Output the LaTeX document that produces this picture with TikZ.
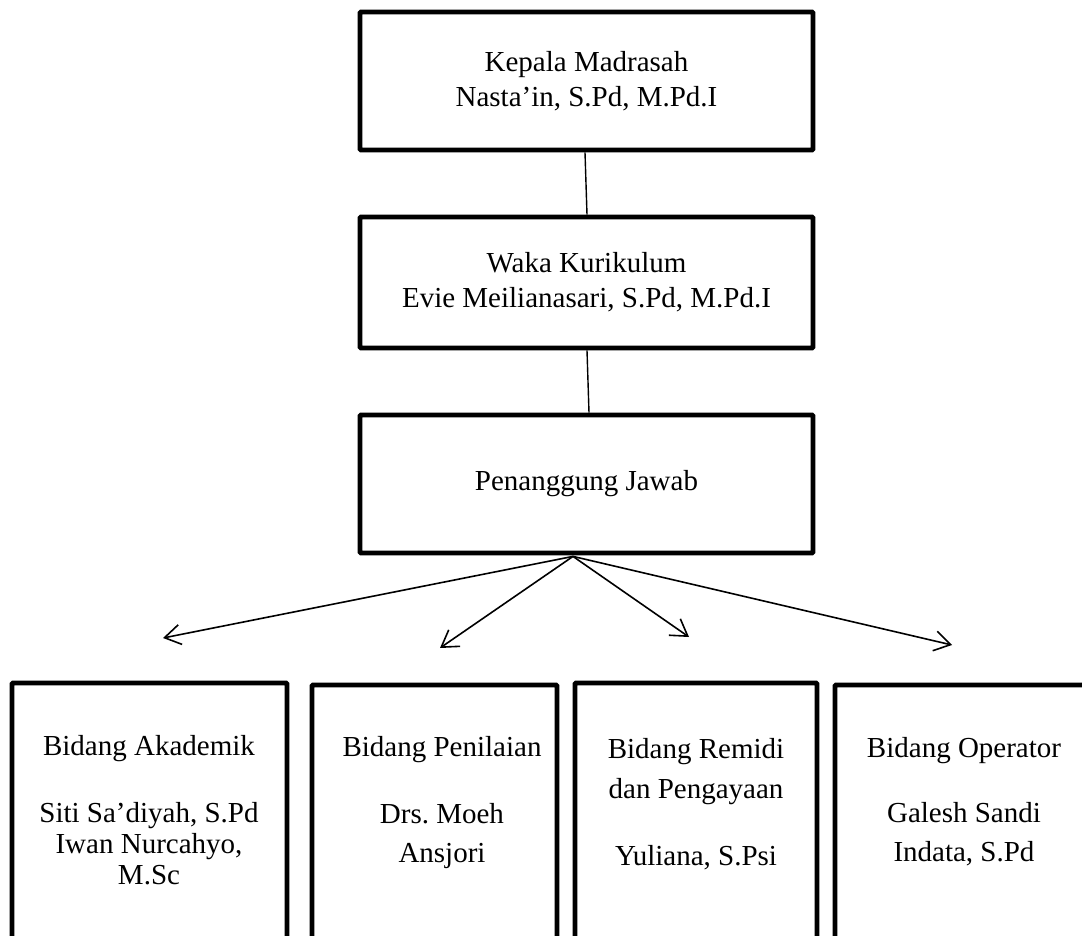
\documentclass[tikz,border=0pt]{standalone}
\usepackage{fontspec}
\setmainfont{Liberation Serif}
\usetikzlibrary{arrows.meta}
\begin{document}
\begin{tikzpicture}[x=1pt,y=-1pt,
  box/.style={draw, line width=4.8pt, rounded corners=1pt, inner sep=0pt, align=center,
              font=\fontsize{29}{35}\selectfont},
  btext/.style={inner sep=0pt, align=center, anchor=north},
  conn/.style={line width=1.4pt},
  arr/.style={line width=1.6pt, -{Straight Barb[length=16pt,width=20pt]}}]
\useasboundingbox (0,0) rectangle (1082,935);
\clip (0,0) rectangle (1082,935);
% top chain
\node[box, minimum width=453pt, minimum height=138pt] (kepala) at (586.5,81)
  {Kepala Madrasah\\Nasta’in, S.Pd, M.Pd.I};
\node[box, minimum width=453pt, minimum height=131pt] (waka) at (586.5,282.5)
  {Waka Kurikulum\\Evie Meilianasari, S.Pd, M.Pd.I};
\node[box, minimum width=453pt, minimum height=138pt] (pj) at (586.5,484)
  {\raisebox{-4pt}{Penanggung Jawab}};
\draw[conn] ([xshift=-1.5pt]kepala.south) -- ([xshift=0.5pt]waka.north);
\draw[conn] ([xshift=0.5pt]waka.south) -- ([xshift=2.5pt]pj.north);
% bottom boxes
\node[box, minimum width=275pt, minimum height=277pt] (akad) at (149.5,821.5) {};
\node[box, minimum width=245pt, minimum height=275pt] (nilai) at (434.5,822.5) {};
\node[box, minimum width=242pt, minimum height=277pt] (remidi) at (696,821.5) {};
\node[box, minimum width=265pt, minimum height=275pt] (oper) at (967.5,822.5) {};
% bottom texts
\node[btext, font=\fontsize{29}{31}\selectfont] (akadt) at (149,735)
  {Bidang Akademik\\[36pt]Siti Sa’diyah, S.Pd\\Iwan Nurcahyo,\\M.Sc};
\node[btext, font=\fontsize{29}{39}\selectfont] (nilait) at (442,736)
  {Bidang Penilaian\\[28pt]Drs.\ Moeh\\Ansjori};
\node[btext, font=\fontsize{29}{40}\selectfont] (remidit) at (696,738)
  {Bidang Remidi\\dan Pengayaan\\[27pt]Yuliana, S.Psi};
\node[btext, font=\fontsize{29}{39}\selectfont] (opert) at (964,737)
  {Bidang Operator\\[26pt]Galesh Sandi\\Indata, S.Pd};
% arrows
\coordinate (src) at ([xshift=-13.5pt,yshift=-1pt]pj.south);
\coordinate (t1) at (163,638);
\coordinate (t2) at (440,648);
\coordinate (t3) at (689,637);
\coordinate (t4) at (952,645);
\draw[arr] (src) -- (t1);
\draw[arr] (src) -- (t2);
\draw[arr] (src) -- (t3);
\draw[arr] (src) -- (t4);
\end{tikzpicture}
\end{document}
